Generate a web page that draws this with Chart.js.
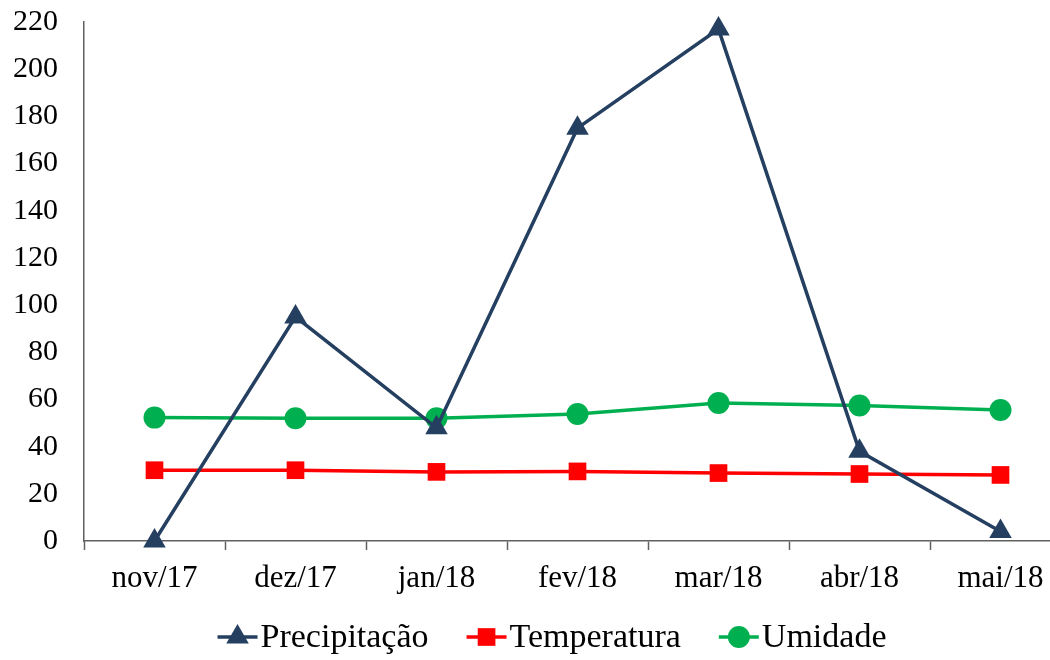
<!DOCTYPE html>
<html>
<head>
<meta charset="utf-8">
<script src="https://cdn.jsdelivr.net/npm/chart.js@4/dist/chart.umd.min.js"></script>
<style>
  html, body { margin: 0; padding: 0; background: #fff; overflow: hidden; }
  #wrap { width: 1050px; height: 660px; overflow: hidden; }
</style>
</head>
<body>
<div id="wrap"><canvas id="chart" width="1075" height="660"></canvas></div>
<script>
// ---- data ----
const MONTHS = ["nov/17", "dez/17", "jan/18", "fev/18", "mar/18", "abr/18", "mai/18"];
const PRECIPITACAO = [0, 95, 48, 175, 217, 38, 4];
const TEMPERATURA  = [30, 30, 29.3, 29.5, 28.8, 28.4, 28];
const UMIDADE      = [52.3, 52, 52, 53.8, 58.5, 57.4, 55.5];
const Y_MIN = 0, Y_MAX = 220, Y_STEP = 20;

const FONT = "'Liberation Serif', 'Times New Roman', serif";
const AXIS_COLOR = "#606060";

// legend drawn by hand: line + marker + label, like the office style legend
const legendPlugin = {
  id: "lineLegend",
  afterDraw(chart) {
    const ctx = chart.ctx;
    const sets = chart.data.datasets;
    ctx.save();
    ctx.font = "34px " + FONT;
    const lineW = 40, gapText = 3, gapItem = 38;
    const widths = sets.map(ds => lineW + gapText + ctx.measureText(ds.label).width);
    const total = widths.reduce((a, b) => a + b, 0) + gapItem * (sets.length - 1);
    let x = 552 - total / 2;
    const y = 637;
    sets.forEach((ds, i) => {
      ctx.strokeStyle = ds.borderColor;
      ctx.lineWidth = 3.5;
      ctx.beginPath();
      ctx.moveTo(x, y);
      ctx.lineTo(x + lineW, y);
      ctx.stroke();
      ctx.fillStyle = ds.backgroundColor;
      Chart.helpers.drawPoint(ctx, {
        pointStyle: ds.pointStyle, radius: ds.pointRadius, borderWidth: 0
      }, x + lineW / 2, y);
      ctx.fillStyle = "#000";
      ctx.textBaseline = "middle";
      ctx.textAlign = "left";
      ctx.fillText(ds.label, x + lineW + gapText, y + 1);
      x += widths[i] + gapItem;
    });
    ctx.restore();
  }
};

new Chart(document.getElementById("chart"), {
  type: "line",
  data: {
    labels: MONTHS,
    datasets: [
      {
        label: "Precipitação", data: PRECIPITACAO,
        borderColor: "#243F60", backgroundColor: "#243F60",
        borderWidth: 3.5, pointStyle: "triangle", pointRadius: 13,
        pointBorderWidth: 0, clip: false
      },
      {
        label: "Temperatura", data: TEMPERATURA,
        borderColor: "#FF0000", backgroundColor: "#FF0000",
        borderWidth: 3.5, pointStyle: "rect", pointRadius: 12.5,
        pointBorderWidth: 0, clip: false
      },
      {
        label: "Umidade", data: UMIDADE,
        borderColor: "#00B050", backgroundColor: "#00B050",
        borderWidth: 3.5, pointStyle: "circle", pointRadius: 11,
        pointBorderWidth: 0, clip: false
      }
    ]
  },
  options: {
    responsive: false,
    animation: false,
    layout: { autoPadding: false, padding: { top: 22, right: 4, bottom: 44, left: 0 } },
    plugins: {
      legend: { display: false },
      tooltip: { enabled: false }
    },
    scales: {
      x: {
        offset: true,
        grid: {
          offset: true, drawOnChartArea: false, drawTicks: true,
          tickLength: 9, tickColor: AXIS_COLOR, tickWidth: 1.5
        },
        border: { color: AXIS_COLOR, width: 1.5 },
        ticks: { color: "#000", font: { family: FONT, size: 31 }, padding: 10, maxRotation: 0 },
        afterFit: s => { s.height = 75; }
      },
      y: {
        min: Y_MIN, max: Y_MAX,
        grid: { drawOnChartArea: false, drawTicks: false },
        border: { color: AXIS_COLOR, width: 1.5 },
        ticks: { stepSize: Y_STEP, color: "#000", font: { family: FONT, size: 30 }, padding: 26 },
        afterFit: s => { s.width = 84; s.paddingTop = 0; s.paddingBottom = 0; }
      }
    }
  },
  plugins: [legendPlugin]
});
</script>
</body>
</html>
